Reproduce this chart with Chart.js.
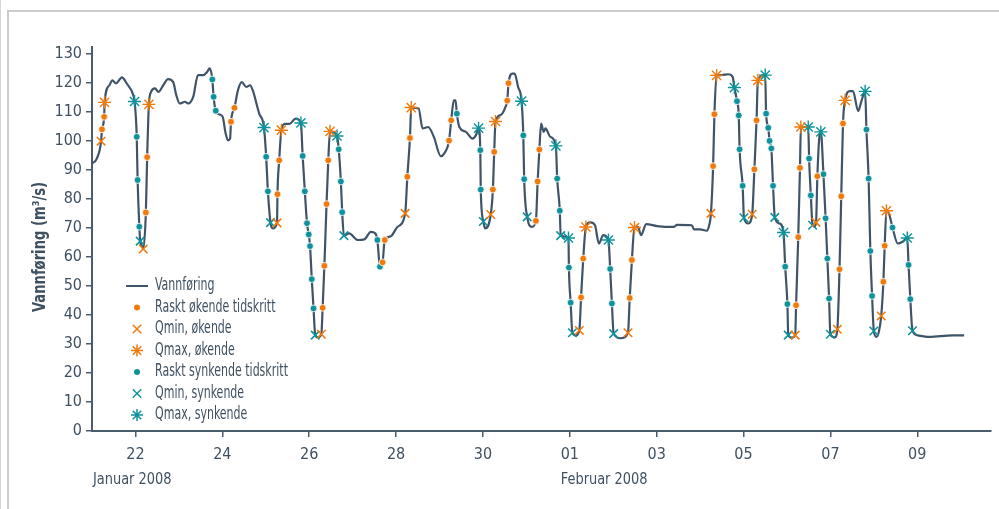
<!DOCTYPE html>
<html>
<head>
<meta charset="utf-8">
<script src="https://cdn.jsdelivr.net/npm/chart.js@4.4.1/dist/chart.umd.min.js"></script>
<style>
  html, body { margin: 0; padding: 0; background: #fff; }
  #wrap { position: relative; width: 999px; height: 509px; overflow: hidden; }
  #kant { position: absolute; left: 0; top: 0; width: 1px; height: 509px; background: #d6d6d6; }
  #ramme { position: absolute; left: 7px; top: 10px; width: 1200px; height: 800px; border: 2px solid #cccccc; }
  canvas { position: absolute; left: 0; top: 0; }
</style>
</head>
<body>
<div id="wrap">
  <div id="kant"></div>
  <div id="ramme"></div>
  <canvas id="graf" width="999" height="509"></canvas>
</div>
<script>
// Dager regnet som dag i januar (1. februar = 32)
const flowPoints = [
  [21.00,92.3],[21.11,94.0],[21.21,100.0],[21.23,104.1],[21.28,108.4],[21.29,113.4],[21.40,119.3],[21.47,121.0],
  [21.55,119.9],[21.69,122.0],[21.80,119.9],[21.95,115.9],[21.98,113.7],[22.03,101.5],[22.05,86.6],[22.09,70.5],
  [22.11,65.5],[22.14,64.1],[22.18,62.8],[22.24,75.4],[22.27,94.5],[22.31,112.7],[22.36,117.0],[22.45,118.2],
  [22.53,117.0],[22.64,119.3],[22.75,121.4],[22.87,120.4],[22.94,115.9],[23.02,113.0],[23.14,113.6],[23.21,113.0],
  [23.33,115.3],[23.44,122.8],[23.56,122.8],[23.65,123.9],[23.71,125.1],[23.77,121.3],[23.80,115.3],[23.85,110.5],
  [23.94,109.2],[24.01,108.4],[24.07,103.2],[24.13,100.3],[24.18,100.9],[24.20,106.7],[24.28,111.5],[24.36,117.6],
  [24.45,120.4],[24.55,118.7],[24.64,119.3],[24.70,117.6],[24.85,109.5],[24.96,104.7],[25.01,94.6],[25.05,82.7],
  [25.11,71.9],[25.16,69.9],[25.26,71.8],[25.27,81.7],[25.31,93.4],[25.36,103.8],[25.44,106.0],[25.55,106.0],
  [25.69,107.8],[25.81,106.3],[25.85,94.9],[25.90,82.7],[25.95,71.7],[25.99,67.8],[26.02,63.8],[26.06,52.4],
  [26.10,42.3],[26.14,33.1],[26.20,32.3],[26.28,33.4],[26.31,42.5],[26.35,57.0],[26.40,78.3],[26.44,93.4],
  [26.48,103.4],[26.64,101.8],[26.68,97.2],[26.73,86.1],[26.76,75.5],[26.80,67.4],[26.92,68.2],[27.12,65.9],
  [27.27,66.1],[27.42,68.7],[27.52,68.2],[27.57,65.9],[27.63,56.7],[27.69,58.2],[27.74,65.9],[27.88,67.2],
  [28.03,70.4],[28.21,75.1],[28.26,87.7],[28.32,101.1],[28.35,111.6],[28.52,111.3],[28.61,104.4],[28.74,104.9],
  [28.87,101.5],[29.03,94.8],[29.11,95.8],[29.22,100.2],[29.27,107.2],[29.33,114.1],[29.37,114.1],[29.40,109.5],
  [29.46,104.8],[29.61,103.2],[29.76,100.9],[29.84,102.1],[29.90,104.5],[29.94,96.9],[29.95,83.3],[30.01,72.3],
  [30.05,69.9],[30.18,74.7],[30.23,83.3],[30.26,96.3],[30.29,106.8],[30.41,109.0],[30.52,111.8],[30.56,114.0],
  [30.59,120.0],[30.68,123.3],[30.73,123.3],[30.81,118.7],[30.89,113.8],[30.93,102.0],[30.95,86.9],[31.02,73.9],
  [31.13,70.4],[31.22,72.5],[31.26,86.1],[31.30,97.1],[31.34,106.1],[31.40,103.2],[31.44,104.4],[31.55,101.5],
  [31.68,98.4],[31.71,87.1],[31.77,76.0],[31.79,67.4],[31.97,66.6],[31.98,56.4],[32.02,44.3],[32.06,33.9],
  [32.14,33.0],[32.22,34.7],[32.26,46.1],[32.31,59.5],[32.37,70.4],[32.47,72.0],[32.58,71.0],[32.67,64.7],
  [32.77,67.6],[32.89,65.9],[32.93,55.9],[32.97,44.0],[33.01,33.6],[33.17,32.0],[33.34,33.9],[33.38,45.9],
  [33.43,59.0],[33.49,70.2],[33.57,70.4],[33.64,67.6],[33.76,71.4],[34.01,70.7],[34.39,70.4],[34.47,71.1],
  [34.81,71.0],[34.86,69.6],[35.00,69.6],[35.15,69.1],[35.21,71.0],[35.25,75.1],[35.30,91.4],[35.33,109.3],
  [35.38,122.7],[35.50,122.8],[35.65,123.1],[35.75,122.2],[35.79,118.5],[35.85,113.8],[35.89,108.9],[35.91,97.2],
  [35.98,84.6],[36.01,73.6],[36.11,71.6],[36.20,74.8],[36.25,90.3],[36.30,107.2],[36.33,121.0],[36.50,122.8],
  [36.52,109.5],[36.57,104.6],[36.60,100.1],[36.64,97.5],[36.68,84.6],[36.72,73.7],[36.83,71.6],[36.92,68.5],
  [36.96,56.7],[37.01,43.8],[37.03,33.1],[37.11,32.2],[37.19,33.1],[37.21,43.4],[37.26,66.9],[37.30,90.8],
  [37.32,104.9],[37.49,104.9],[37.51,94.0],[37.55,81.3],[37.59,71.0],[37.63,70.6],[37.67,72.0],[37.70,87.9],
  [37.75,102.0],[37.78,103.2],[37.84,88.6],[37.89,73.4],[37.93,59.5],[37.97,45.7],[38.00,33.4],[38.10,32.3],
  [38.16,35.1],[38.21,55.8],[38.25,81.0],[38.29,106.1],[38.34,114.1],[38.45,117.3],[38.52,117.3],[38.64,110.4],
  [38.71,113.6],[38.80,117.2],[38.83,104.0],[38.88,87.1],[38.92,62.1],[38.96,46.6],[39.00,34.5],[39.06,32.5],
  [39.12,34.5],[39.17,39.7],[39.22,51.5],[39.25,63.9],[39.29,76.0],[39.35,75.0],[39.43,70.2],[39.55,64.7],
  [39.66,65.3],[39.77,66.6],[39.80,57.3],[39.84,45.5],[39.89,34.6],[40.01,33.0],[40.28,32.5],[40.81,33.0],
  [41.08,33.0]
];

const raskOkende = [
  [21.23,104.1],[21.28,108.4],[22.24,75.4],[22.27,94.5],[24.20,106.7],[24.28,111.5],[25.27,81.7],[25.31,93.4],
  [26.31,42.5],[26.35,57.0],[26.40,78.3],[26.44,93.4],[27.69,58.2],[27.74,65.9],[28.26,87.7],[28.32,101.1],
  [29.22,100.2],[29.27,107.2],[30.23,83.3],[30.26,96.3],[30.56,114.0],[30.59,120.0],[31.22,72.5],[31.26,86.1],
  [31.30,97.1],[32.26,46.1],[32.31,59.5],[33.38,45.9],[33.43,59.0],[35.30,91.4],[35.33,109.3],[36.25,90.3],
  [36.30,107.2],[37.21,43.4],[37.26,66.9],[37.30,90.8],[37.70,87.9],[38.21,55.8],[38.25,81.0],[38.29,106.1],
  [39.22,51.5],[39.25,63.9]
];
const qminOkende = [
  [21.21,100.0],[22.18,62.8],[25.26,71.8],[26.28,33.4],[28.21,75.1],[30.18,74.7],[32.22,34.7],[33.34,33.9],
  [35.25,75.1],[36.20,74.8],[37.19,33.1],[37.67,72.0],[38.16,35.1],[39.17,39.7]
];
const qmaxOkende = [
  [21.29,113.4],[22.31,112.7],[25.36,103.8],[26.48,103.4],[28.35,111.6],[30.29,106.8],[32.37,70.4],[33.49,70.2],
  [35.38,122.7],[36.33,121.0],[37.32,104.9],[38.34,114.1],[39.29,76.0]
];
const raskSynkende = [
  [22.03,101.5],[22.05,86.6],[22.09,70.5],[23.77,121.3],[23.80,115.3],[23.85,110.5],[25.01,94.6],[25.05,82.7],
  [25.85,94.9],[25.90,82.7],[25.95,71.7],[25.99,67.8],[26.02,63.8],[26.06,52.4],[26.10,42.3],[26.68,97.2],
  [26.73,86.1],[26.76,75.5],[27.57,65.9],[27.63,56.7],[29.40,109.5],[29.94,96.9],[29.95,83.3],[30.93,102.0],
  [30.95,86.9],[31.71,87.1],[31.77,76.0],[31.98,56.4],[32.02,44.3],[32.93,55.9],[32.97,44.0],[35.85,113.8],
  [35.89,108.9],[35.91,97.2],[35.98,84.6],[36.52,109.5],[36.57,104.6],[36.60,100.1],[36.64,97.5],[36.68,84.6],
  [36.96,56.7],[37.01,43.8],[37.51,94.0],[37.55,81.3],[37.84,88.6],[37.89,73.4],[37.93,59.5],[37.97,45.7],
  [38.83,104.0],[38.88,87.1],[38.92,62.1],[38.96,46.6],[39.43,70.2],[39.80,57.3],[39.84,45.5]
];
const qminSynkende = [
  [22.11,65.5],[25.11,71.9],[26.14,33.1],[26.80,67.4],[30.01,72.3],[31.02,73.9],[31.79,67.4],[32.06,33.9],
  [33.01,33.6],[36.01,73.6],[36.72,73.7],[37.03,33.1],[37.59,71.0],[38.00,33.4],[39.00,34.5],[39.89,34.6]
];
const qmaxSynkende = [
  [21.98,113.7],[24.96,104.7],[25.81,106.3],[26.64,101.8],[29.90,104.5],[30.89,113.8],[31.68,98.4],[31.97,66.6],
  [32.89,65.9],[35.79,118.5],[36.50,122.8],[36.92,68.5],[37.49,104.9],[37.78,103.2],[38.80,117.2],[39.77,66.6]
];

const xTickDays = [22, 24, 26, 28, 30, 32, 34, 36, 38, 40];
const yTicks = [0, 10, 20, 30, 40, 50, 60, 70, 80, 90, 100, 110, 120, 130];
const monthLabels = ["Januar 2008", "Februar 2008"];
const monthStartDays = [21, 32];
const legendLabels = [
  "Vannføring",
  "Raskt økende tidskritt",
  "Qmin, økende",
  "Qmax, økende",
  "Raskt synkende tidskritt",
  "Qmin, synkende",
  "Qmax, synkende"
];
const yTitle = "Vannføring (m³/s)";

/* farger og skrift */
const TEKST = "#3f5161";
const AKSE = "#4a5c6c";
const LINJE = "#405468";
const ORANSJE = "#ef7b0f";
const TURKIS = "#0f929b";
const SKRIFT = "'DejaVu Sans Condensed', 'DejaVu Sans', sans-serif";

function xy(liste) {
  return liste.map(p => ({ x: p[0], y: p[1] }));
}

function dagLabel(v) {
  if (v <= 31) return String(v);
  return String(v - 31).padStart(2, "0");
}

// smal tekst: skriften er bredere enn originalen, så den klemmes litt
function smalTekst(ctx, tekst, x, y, sx) {
  ctx.save();
  ctx.translate(x, y);
  ctx.scale(sx, 1);
  ctx.fillText(tekst, 0, 0);
  ctx.restore();
}

// symbol-stil for hver rad i forklaringen
const symboler = [
  { stil: "line", farge: LINJE, r: 0 },
  { stil: "circle", farge: ORANSJE, r: 3 },
  { stil: "crossRot", farge: ORANSJE, r: 6 },
  { stil: "star", farge: ORANSJE, r: 6 },
  { stil: "circle", farge: TURKIS, r: 3 },
  { stil: "crossRot", farge: TURKIS, r: 6 },
  { stil: "star", farge: TURKIS, r: 6 }
];

function tegnSymbol(ctx, s, x, y) {
  ctx.save();
  ctx.strokeStyle = s.farge;
  ctx.fillStyle = s.farge;
  ctx.lineWidth = 1.5;
  if (s.stil === "line") {
    ctx.lineWidth = 2;
    ctx.beginPath();
    ctx.moveTo(x - 11, y);
    ctx.lineTo(x + 11, y);
    ctx.stroke();
  } else if (s.stil === "circle") {
    ctx.beginPath();
    ctx.arc(x, y, s.r, 0, Math.PI * 2);
    ctx.fill();
  } else {
    const d = s.r * Math.SQRT1_2;
    ctx.beginPath();
    ctx.moveTo(x - d, y - d); ctx.lineTo(x + d, y + d);
    ctx.moveTo(x - d, y + d); ctx.lineTo(x + d, y - d);
    if (s.stil === "star") {
      ctx.moveTo(x, y - s.r); ctx.lineTo(x, y + s.r);
      ctx.moveTo(x - s.r, y); ctx.lineTo(x + s.r, y);
    }
    ctx.stroke();
  }
  ctx.restore();
}

const tekstPlugin = {
  id: "tekster",
  afterDraw(chart) {
    const ctx = chart.ctx;
    const xs = chart.scales.x;
    const ca = chart.chartArea;
    ctx.save();
    ctx.fillStyle = TEKST;

    // aksetittel
    ctx.font = "bold 17px " + SKRIFT;
    ctx.textAlign = "center";
    ctx.textBaseline = "middle";
    ctx.save();
    ctx.translate(41, 247);
    ctx.rotate(-Math.PI / 2);
    ctx.scale(0.86, 1);
    ctx.fillText(yTitle, 0, 0);
    ctx.restore();

    // måned under datoene
    ctx.font = "16px " + SKRIFT;
    ctx.textAlign = "left";
    smalTekst(ctx, monthLabels[0], xs.getPixelForValue(monthStartDays[0]) + 1, 480, 0.9);
    smalTekst(ctx, monthLabels[1], xs.getPixelForValue(monthStartDays[1]) - 9, 480, 0.9);

    // forklaring
    ctx.font = "17px " + SKRIFT;
    const sx = ca.left + 45;
    const tx = ca.left + 63;
    for (let i = 0; i < legendLabels.length; i++) {
      const y = 286 + i * 21.5;
      tegnSymbol(ctx, symboler[i], sx, y);
      ctx.fillStyle = TEKST;
      smalTekst(ctx, legendLabels[i], tx, y, 0.72);
    }
    ctx.restore();
  }
};

const punktFelles = { showLine: false, order: 1 };

new Chart(document.getElementById("graf"), {
  type: "scatter",
  data: {
    datasets: [
      Object.assign({ label: legendLabels[1], data: xy(raskOkende), pointStyle: "circle", pointRadius: 3.4,
        pointBackgroundColor: ORANSJE, pointBorderColor: "#ffffff", pointBorderWidth: 0.8 }, punktFelles),
      Object.assign({ label: legendLabels[2], data: xy(qminOkende), pointStyle: "crossRot", pointRadius: 6,
        pointBorderColor: ORANSJE, pointBorderWidth: 1.6 }, punktFelles),
      Object.assign({ label: legendLabels[3], data: xy(qmaxOkende), pointStyle: "star", pointRadius: 6.5,
        pointBorderColor: ORANSJE, pointBorderWidth: 1.4 }, punktFelles),
      Object.assign({ label: legendLabels[4], data: xy(raskSynkende), pointStyle: "circle", pointRadius: 3.4,
        pointBackgroundColor: TURKIS, pointBorderColor: "#ffffff", pointBorderWidth: 0.8 }, punktFelles),
      Object.assign({ label: legendLabels[5], data: xy(qminSynkende), pointStyle: "crossRot", pointRadius: 6,
        pointBorderColor: TURKIS, pointBorderWidth: 1.6 }, punktFelles),
      Object.assign({ label: legendLabels[6], data: xy(qmaxSynkende), pointStyle: "star", pointRadius: 6.5,
        pointBorderColor: TURKIS, pointBorderWidth: 1.4 }, punktFelles),
      {
        type: "line",
        label: legendLabels[0],
        data: xy(flowPoints),
        borderColor: LINJE,
        borderWidth: 2.2,
        pointRadius: 0,
        showLine: true,
        cubicInterpolationMode: "monotone",
        order: 10
      }
    ]
  },
  options: {
    responsive: false,
    animation: false,
    events: [],
    layout: { padding: { left: 0, right: 2, top: 47, bottom: 0 } },
    plugins: { legend: { display: false }, tooltip: { enabled: false } },
    scales: {
      x: {
        type: "linear",
        min: 21,
        max: 41.7,
        afterBuildTicks: s => { s.ticks = xTickDays.map(v => ({ value: v })); },
        afterFit: s => { s.height = 78; },
        ticks: {
          callback: v => dagLabel(v),
          autoSkip: false,
          maxRotation: 0,
          padding: 8,
          color: TEKST,
          font: { family: SKRIFT, size: 16 }
        },
        grid: { drawOnChartArea: false, tickLength: 6, color: AKSE, lineWidth: 1.5 },
        border: { color: AKSE, width: 2 }
      },
      y: {
        min: 0,
        max: 132.5,
        afterBuildTicks: s => { s.ticks = yTicks.map(v => ({ value: v })); },
        afterFit: s => { s.width = 92; },
        ticks: {
          padding: 4,
          color: TEKST,
          font: { family: SKRIFT, size: 16 }
        },
        grid: { drawOnChartArea: false, tickLength: 6, color: AKSE, lineWidth: 1.5 },
        border: { color: AKSE, width: 2 }
      }
    }
  },
  plugins: [tekstPlugin]
});
</script>
</body>
</html>
